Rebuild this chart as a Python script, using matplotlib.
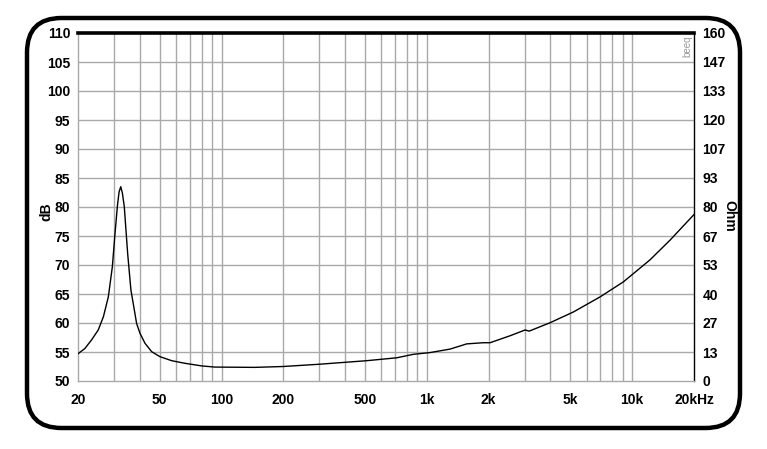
import numpy as np
import matplotlib
matplotlib.use("Agg")
import matplotlib.pyplot as plt
from matplotlib.patches import FancyBboxPatch

# ---- data ----
freq = [20, 21.6, 23.3, 25.1, 26.6, 28.1, 29.4, 30.2, 31.1, 31.7, 32.3, 32.9, 33.6,
        34.9, 36.2, 38.6, 40.1, 42.4, 45.7, 50.1, 57.2, 66.4, 80.1, 92.9, 145, 200,
        302, 509, 713, 859, 1037, 1297, 1564, 1884, 2032, 2543, 3011, 3150, 3983,
        5172, 6976, 9066, 12222, 15300, 20000]
db = [54.7, 55.6, 57.1, 58.8, 61.1, 64.5, 69.7, 74.9, 80.1, 82.6, 83.5, 82.4, 80.1,
      72.0, 65.7, 59.9, 58.2, 56.5, 55.05, 54.2, 53.5, 53.05, 52.6, 52.4, 52.35,
      52.5, 52.9, 53.5, 54.0, 54.6, 54.9, 55.5, 56.4, 56.6, 56.6, 57.8, 58.8, 58.6,
      60.05, 61.9, 64.5, 67.1, 70.9, 74.3, 78.7]

x_ticks = [20, 50, 100, 200, 500, 1000, 2000, 5000, 10000, 20000]
x_labels = ["20", "50", "100", "200", "500", "1k", "2k", "5k", "10k", "20kHz"]
db_ticks = [50, 55, 60, 65, 70, 75, 80, 85, 90, 95, 100, 105, 110]
ohm_labels = ["0", "13", "27", "40", "53", "67", "80", "93", "107", "120", "133", "147", "160"]

plt.rcParams['font.family'] = ['Liberation Sans', 'DejaVu Sans']

W, H = 767, 449
fig = plt.figure(figsize=(W / 100, H / 100), dpi=100)
fig.patch.set_facecolor("white")

# rounded frame
frame = FancyBboxPatch((27 / W, 1 - 428 / H), (740 - 27) / W, (428 - 18) / H,
                       boxstyle="round,pad=0,rounding_size=0.045",
                       transform=fig.transFigure, fill=False, edgecolor="black",
                       linewidth=3.2, mutation_aspect=W / H)
fig.patches.append(frame)

l, r, t, b = 78, 694, 33, 381
ax = fig.add_axes([l / W, 1 - b / H, (r - l) / W, (b - t) / H])
ax.set_xscale("log")
ax.set_xlim(20, 20000)
ax.set_ylim(50, 110)

grid_c = "#a9a9a9"
minor = [f for d in (10, 100, 1000, 10000) for f in np.arange(1, 10) * d if 20 < f < 20000]
for f in minor:
    ax.axvline(f, color=grid_c, lw=1.0, zorder=1)
for y in db_ticks[1:-1]:
    ax.axhline(y, color=grid_c, lw=1.0, zorder=1)

ax.plot(freq, db, color="black", lw=1.0, zorder=3)

ax.set_xticks(x_ticks)
ax.set_xticklabels(x_labels)
ax.xaxis.set_minor_locator(matplotlib.ticker.NullLocator())
ax.set_yticks(db_ticks)
ax.set_yticklabels([str(v) for v in db_ticks])
ax.tick_params(axis="both", length=0, labelsize=10)
ax.tick_params(axis="x", pad=9)
ax.tick_params(axis="y", pad=5.5)
for lab in ax.get_xticklabels() + ax.get_yticklabels():
    lab.set_fontweight("bold")

ax.spines["top"].set_color("black")
ax.spines["top"].set_linewidth(2.6)
ax.spines["right"].set_color("black")
ax.spines["right"].set_linewidth(1.0)
ax.spines["left"].set_color(grid_c)
ax.spines["bottom"].set_color(grid_c)
ax.spines["left"].set_linewidth(1.0)
ax.spines["bottom"].set_linewidth(1.0)

ax2 = ax.twinx()
ax2.set_ylim(0, 160)
ax2.set_yticks(np.linspace(0, 160, 13))
ax2.set_yticklabels(ohm_labels)
ax2.tick_params(axis="y", length=0, labelsize=10, pad=6)
for lab in ax2.get_yticklabels():
    lab.set_fontweight("bold")
for s in ax2.spines.values():
    s.set_visible(False)

fig.text(46 / W, 1 - 212 / H, "dB", rotation=90, ha="center", va="center",
         fontsize=10, fontweight="bold")
fig.text(729 / W, 1 - 216 / H, "Ohm", rotation=270, ha="center", va="center",
         fontsize=10, fontweight="bold")
fig.text(687 / W, 1 - 46 / H, "beeq", rotation=90, ha="center", va="center",
         fontsize=7, color="#999999")

fig.savefig("out.png", dpi=100, facecolor="white")
